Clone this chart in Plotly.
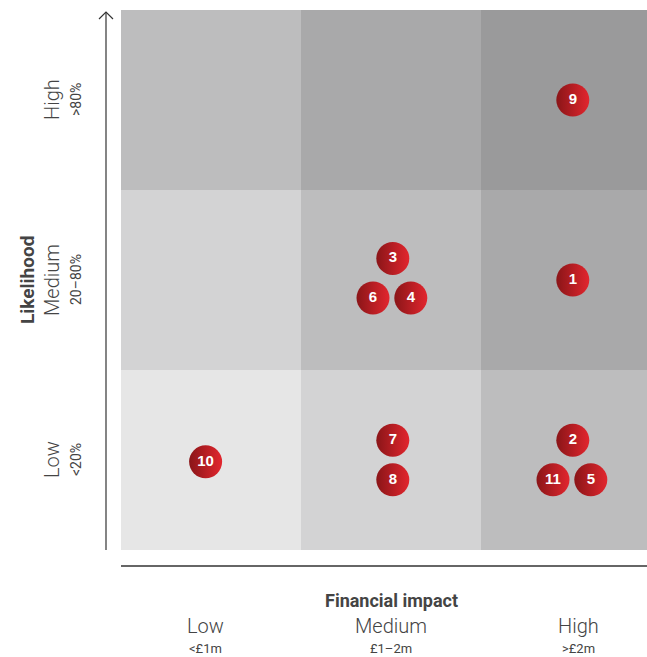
import plotly.graph_objects as go

# ---- data ----
impact_levels = ["Low", "Medium", "High"]
impact_ranges = ["<£1m", "£1–2m", ">£2m"]
likelihood_levels = ["Low", "Medium", "High"]
likelihood_ranges = ["<20%", "20–80%", ">80%"]

# risk score per cell (rows: likelihood low->high, cols: impact low->high)
cell_score = [
    [0, 1, 2],
    [1, 2, 3],
    [2, 3, 4],
]
score_colors = ["#e6e6e6", "#d3d3d4", "#bdbdbe", "#a9a9aa", "#9a9a9b"]

risk_ids = ["1", "2", "3", "4", "5", "6", "7", "8", "9", "10", "11"]
risk_impact = [2.51, 2.51, 1.51, 1.61, 2.61, 1.40, 1.51, 1.51, 2.51, 0.47, 2.40]
risk_likelihood = [1.50, 0.61, 1.62, 1.40, 0.39, 1.40, 0.61, 0.39, 2.50, 0.49, 0.39]

# ---- geometry helpers (pixel -> paper) ----
W, H = 647, 657
L, T, B = 121, 10, 107
PW = W - L
PH = H - T - B
CELL = 180.0


def px(x):
    return (x - L) / PW


def py(y):
    return (H - B - y) / PH


fig = go.Figure()

n = len(score_colors)
colorscale = []
for i, c in enumerate(score_colors):
    colorscale.append([i / n, c])
    colorscale.append([(i + 1) / n, c])

fig.add_trace(go.Heatmap(
    x=[0.5, 1.5, 2.5], y=[0.5, 1.5, 2.5], z=cell_score,
    zmin=-0.5, zmax=n - 0.5, colorscale=colorscale, showscale=False,
    hoverinfo="skip", xgap=0, ygap=0,
))

fig.add_trace(go.Scatter(
    x=risk_impact, y=risk_likelihood, mode="markers+text",
    text=risk_ids, textposition="middle center",
    textfont=dict(family="Liberation Sans", size=15, color="white", weight="bold"),
    marker=dict(size=33, color="#8a1518",
                gradient=dict(type="horizontal", color="#e2262e"),
                line=dict(width=0)),
    hoverinfo="skip", cliponaxis=False,
))

fig.update_xaxes(range=[0, PW / CELL], visible=False, fixedrange=True)
fig.update_yaxes(range=[0, 3], visible=False, fixedrange=True)

line_col = "#333333"
# vertical axis line with open arrow
fig.add_shape(type="line", xref="paper", yref="paper",
              x0=px(106), x1=px(106), y0=py(550), y1=py(12),
              line=dict(color=line_col, width=1.2))
fig.add_shape(type="path", xref="paper", yref="paper",
              path=f"M {px(99)} {py(19)} L {px(106)} {py(12)} L {px(113)} {py(19)}",
              line=dict(color=line_col, width=1.2))
# bottom axis line
fig.add_shape(type="line", xref="paper", yref="paper",
              x0=px(121), x1=px(647), y0=py(566), y1=py(566),
              line=dict(color=line_col, width=1.5))

txt = "#444444"
light = dict(family="Roboto", size=20, color=txt, weight=300)
small = dict(family="Roboto", size=13, color=txt, weight="normal")
bold = dict(family="Roboto", size=18, color=txt, weight="bold")

ann = []
# y labels
row_centers = [460, 280, 100]
for lvl, rng, yc in zip(likelihood_levels, likelihood_ranges, row_centers):
    ann.append(dict(text=lvl, x=px(52), y=py(yc), textangle=-90, font=light))
    ann.append(dict(text=rng, x=px(76), y=py(yc), textangle=-90,
                    font=dict(small, size=14)))
ann.append(dict(text="Likelihood", x=px(27), y=py(280), textangle=-90,
                font=dict(bold, size=19)))

# x labels
col_centers = [205, 391, 578]
for lvl, rng, xc in zip(impact_levels, impact_ranges, col_centers):
    ann.append(dict(text=lvl, x=px(xc), y=py(626), font=light))
    ann.append(dict(text=rng, x=px(xc), y=py(648), font=small))
ann.append(dict(text="Financial impact", x=px(391), y=py(600), font=bold))

for a in ann:
    a.update(xref="paper", yref="paper", showarrow=False,
             xanchor="center", yanchor="middle")
fig.update_layout(annotations=ann)

fig.update_layout(
    width=W, height=H,
    margin=dict(l=L, r=0, t=T, b=B),
    paper_bgcolor="white", plot_bgcolor="white",
    showlegend=False,
)

fig.write_html(
    "out.html",
    config={"displayModeBar": False},
    post_script="document.body.style.margin='0';document.body.style.overflow='hidden';",
)
